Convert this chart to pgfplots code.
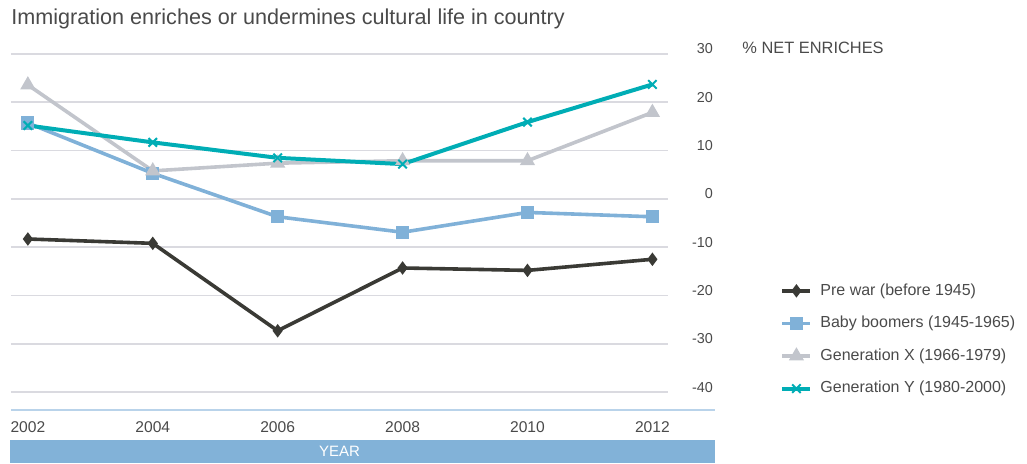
\documentclass[border=0pt]{standalone}
\usepackage{fontspec}
\setmainfont{Liberation Sans}
\usepackage{pgfplots}
\pgfplotsset{compat=1.18}

\definecolor{prewar}{HTML}{3A3A35}
\definecolor{boomer}{HTML}{80B1D8}
\definecolor{genx}{HTML}{C2C5CC}
\definecolor{geny}{HTML}{00ADB5}
\definecolor{gridc}{HTML}{DADAE0}
\definecolor{basecol}{HTML}{B9D3EA}
\definecolor{yearbar}{HTML}{82B2D8}
\definecolor{txt}{HTML}{4A4A4A}

\begin{document}
\begin{tikzpicture}
\begin{axis}[
    scale only axis,
    width=328.5pt, height=178pt,
    xmin=2001.73, xmax=2012.25,
    ymin=-43.7, ymax=30,
    axis line style={draw=none},
    major tick length=0pt,
    ytick={-40,-30,-20,-10,0,10,20,30},
    yticklabels={-40,-30,-20,-10,0,10,20,30},
    yticklabel pos=right,
    yticklabel style={anchor=base east, xshift=26pt, yshift=0pt, font=\fontsize{7.2}{8}\selectfont, text=txt},
    xtick={2002,2004,2006,2008,2010,2012},
    xticklabels={2002,2004,2006,2008,2010,2012},
    xticklabel style={anchor=base, yshift=-11.5pt, font=\fontsize{7.8}{9}\selectfont, text=txt},
    ymajorgrids,
    grid style={gridc, line width=0.8pt},
    clip=false,
    legend cell align=left,
    legend style={draw=none, fill=none, at={(1.1705,0.362)}, anchor=north west,
        inner sep=0pt, row sep=7pt, column sep=3pt, font=\fontsize{8}{9.5}\selectfont, text=txt,
        nodes={inner sep=1pt}},
    legend image code/.code={\draw[mark repeat=2,mark phase=2] plot coordinates {(0pt,0pt) (7pt,0pt) (14pt,0pt)};},
]
% bottom axis line and year band
\draw[basecol, line width=1pt] (rel axis cs:0,0) -- (rel axis cs:1.0715,0);
\fill[yearbar] ([yshift=-15pt]rel axis cs:-0.0015,0) rectangle ([yshift=-26.5pt]rel axis cs:1.0715,0);
\node[white, font=\fontsize{7.5}{9}\selectfont] at ([yshift=-20.75pt]rel axis cs:0.5,0) {YEAR};
\node[anchor=base west, inner sep=0pt, txt, font=\fontsize{10.8}{12}\selectfont] at ([yshift=14.5pt]rel axis cs:0,1) {Immigration enriches or undermines cultural life in country};
\node[anchor=base west, inner sep=0pt, txt, font=\fontsize{8.2}{9}\selectfont] at ([xshift=37pt, yshift=0pt]axis cs:2012.25,30) {\% NET ENRICHES};
% page frame
\path ([xshift=-5.5pt, yshift=-27pt]rel axis cs:0,0) rectangle ([xshift=179.5pt, yshift=27pt]rel axis cs:1,1);

\addplot[prewar, line width=1.8pt, mark=diamond*, mark size=1.9pt] coordinates {
 (2002,-8.3) (2004,-9.2) (2006,-27.3) (2008,-14.3) (2010,-14.8) (2012,-12.5)};
\addlegendentry{Pre war (before 1945)}
\addplot[boomer, line width=1.8pt, mark=square*, mark size=2.4pt] coordinates {
 (2002,15.7) (2004,5.3) (2006,-3.7) (2008,-6.9) (2010,-2.8) (2012,-3.7)};
\addlegendentry{Baby boomers (1945-1965)}
\addplot[genx, line width=1.8pt, mark=triangle*, mark size=2.6pt] coordinates {
 (2002,23.6) (2004,5.8) (2006,7.4) (2008,7.9) (2010,7.9) (2012,17.9)};
\addlegendentry{Generation X (1966-1979)}
\addplot[geny, line width=2pt, mark=x, mark size=3pt, mark options={line width=1pt}] coordinates {
 (2002,15.2) (2004,11.7) (2006,8.5) (2008,7.2) (2010,15.9) (2012,23.7)};
\addlegendentry{Generation Y (1980-2000)}
\end{axis}
\end{tikzpicture}
\end{document}
